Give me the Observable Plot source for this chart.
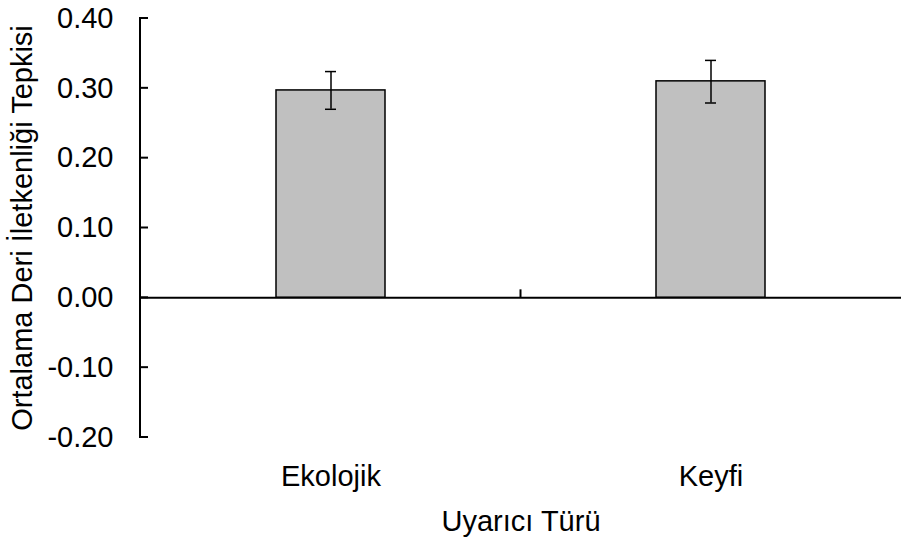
<!DOCTYPE html>
<html>
<head>
<meta charset="utf-8">
<script src="https://cdn.jsdelivr.net/npm/d3@7"></script>
<script src="https://cdn.jsdelivr.net/npm/@observablehq/plot@0.6"></script>
<style>
  html, body { margin: 0; padding: 0; background: #fff; overflow: hidden; }
  #chart svg { display: block; max-width: none !important; }
</style>
</head>
<body>
<div id="chart"></div>
<script>
const categories = ["Ekolojik", "Keyfi"];
const means = [0.297, 0.31];
const lows = [0.27, 0.279];
const highs = [0.324, 0.34];
const yTicks = [-0.2, -0.1, 0, 0.1, 0.2, 0.3, 0.4];
const xTitle = "Uyarıcı Türü";
const yTitle = "Ortalama Deri İletkenliği Tepkisi";

const data = categories.map((c, i) => ({cat: c, value: means[i], lo: lows[i], hi: highs[i]}));

// custom frame: left axis line, inward ticks, and category divider tick on zero line
function frameMark(index, scales, values, dimensions) {
  const g = d3.create("svg:g");
  const y = scales.y;
  const x = scales.x;
  const left = dimensions.marginLeft;
  g.append("line")
    .attr("x1", left).attr("x2", left)
    .attr("y1", y(yTicks[yTicks.length - 1])).attr("y2", y(yTicks[0]))
    .attr("stroke", "black").attr("stroke-width", 2).attr("stroke-linecap", "square");
  for (const t of yTicks) {
    g.append("line")
      .attr("x1", left).attr("x2", left + 8)
      .attr("y1", y(t)).attr("y2", y(t))
      .attr("stroke", "black").attr("stroke-width", 2);
  }
  let bw = 0;
  if (x.bandwidth) bw = x.bandwidth();
  else if (scales.scales && scales.scales.x && scales.scales.x.bandwidth) bw = scales.scales.x.bandwidth;
  const c0 = x(categories[0]) + bw / 2, c1 = x(categories[1]) + bw / 2;
  const mid = (c0 + c1) / 2;
  g.append("line")
    .attr("x1", mid).attr("x2", mid)
    .attr("y1", y(0) - 8).attr("y2", y(0))
    .attr("stroke", "black").attr("stroke-width", 2);
  return g.node();
}

const chart = Plot.plot({
  width: 901,
  height: 541,
  marginLeft: 140,
  marginRight: 0,
  marginTop: 18,
  marginBottom: 104,
  style: {fontFamily: "'Liberation Sans', Arial, sans-serif", fontSize: "29px", color: "black", background: "white"},
  x: {domain: categories, paddingInner: 0.712, paddingOuter: 0.356, align: 0.5},
  y: {domain: [-0.2, 0.4]},
  marks: [
    Plot.barY(data, {x: "cat", y: "value", fill: "#c0c0c0", stroke: "black", strokeWidth: 1.5}),
    Plot.ruleY([0], {stroke: "black", strokeWidth: 2}),
    Plot.ruleX(data, {x: "cat", y1: "lo", y2: "hi", stroke: "black", strokeWidth: 1.5}),
    Plot.tickY(data, {x: "cat", y: "hi", stroke: "black", strokeWidth: 1.5, insetLeft: 49, insetRight: 49}),
    Plot.tickY(data, {x: "cat", y: "lo", stroke: "black", strokeWidth: 1.5, insetLeft: 49, insetRight: 49}),
    Plot.axisY({ticks: yTicks, tickFormat: d => d.toFixed(2), tickSize: 0, tickPadding: 27,
      label: yTitle, labelAnchor: "center", labelArrow: "none", labelOffset: 129, fontSize: 29}),
    Plot.axisX({tickSize: 0, tickPadding: 28, label: xTitle, labelAnchor: "center", labelOffset: 93, fontSize: 29}),
    frameMark
  ]
});
document.getElementById("chart").appendChild(chart);
</script>
</body>
</html>
